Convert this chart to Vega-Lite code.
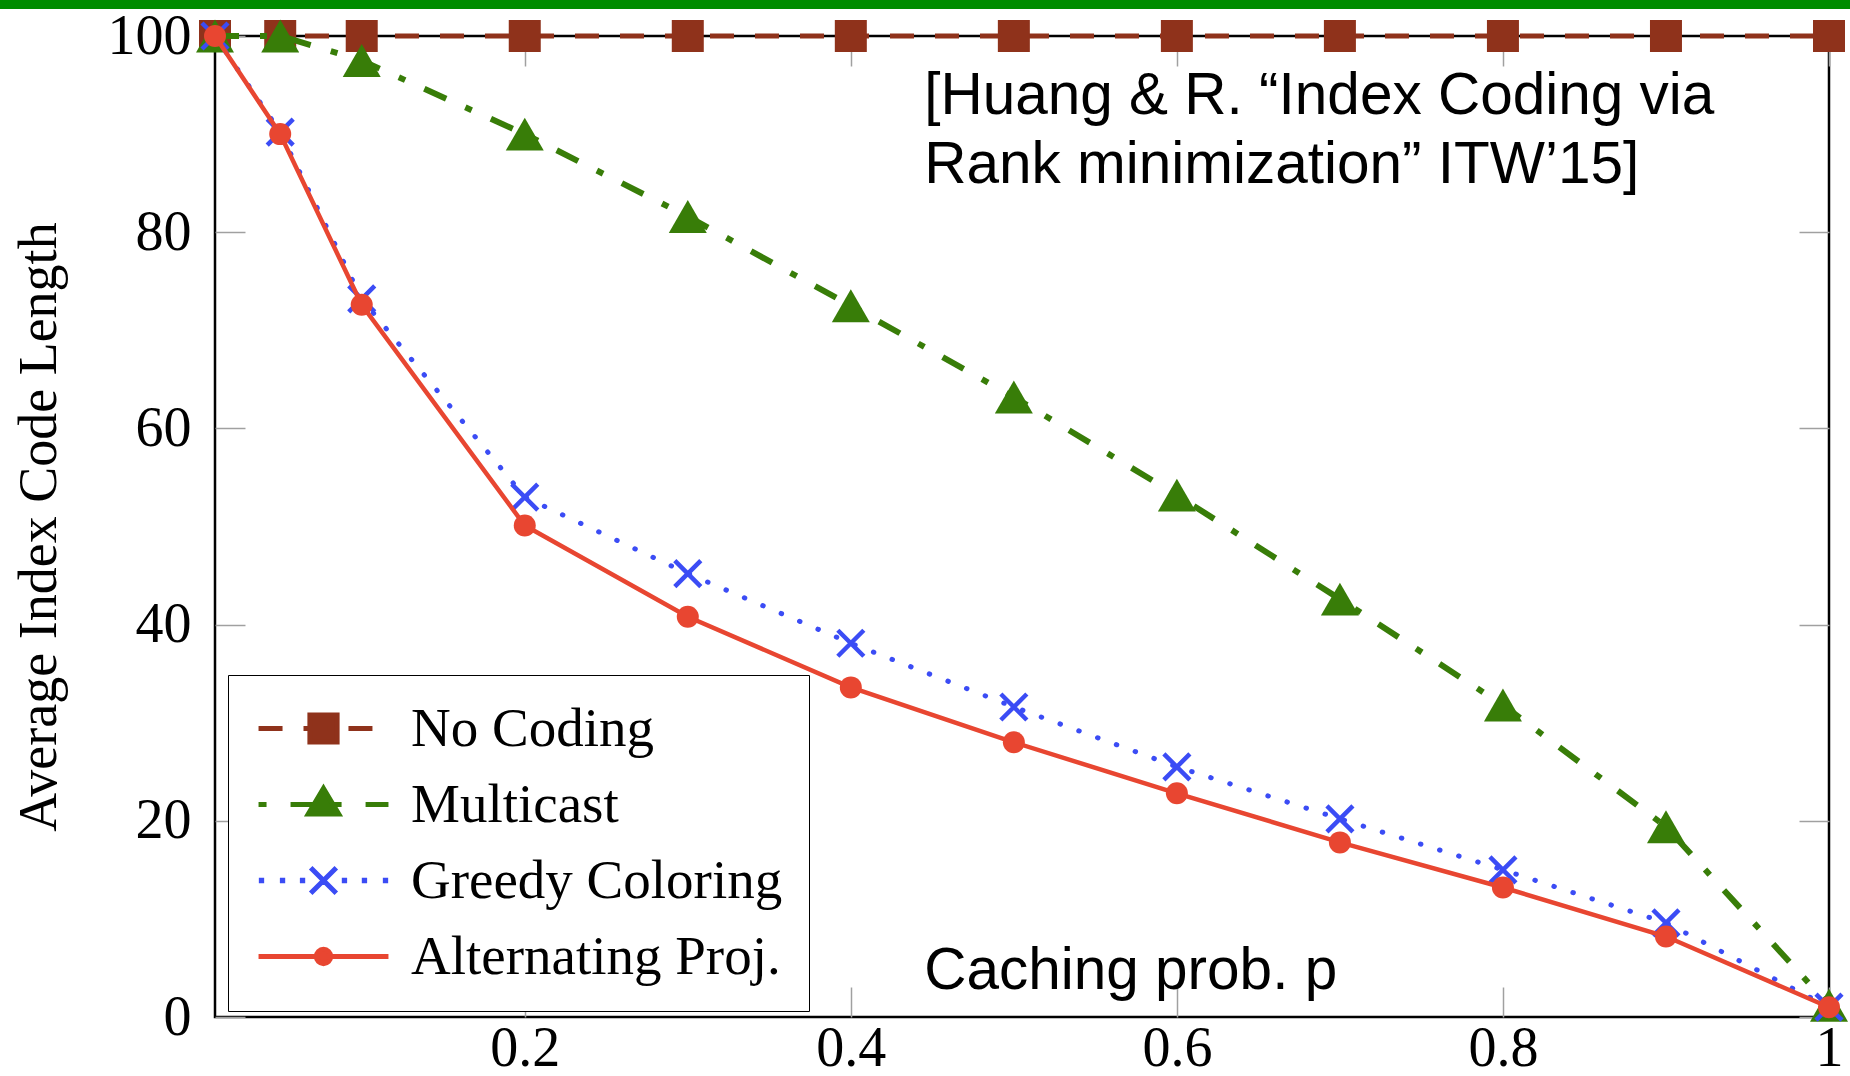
{
  "$schema": "https://vega.github.io/schema/vega-lite/v6.json",
  "width": 1614,
  "height": 981,
  "autosize": {"type": "none"},
  "padding": {"left": 215, "top": 36, "right": 21, "bottom": 59},
  "background": "white",
  "config": {
    "font": "Liberation Serif",
    "view": {"stroke": "black", "strokeWidth": 2.5},
    "axis": {
      "domain": false,
      "grid": false,
      "labelFont": "Liberation Serif",
      "labelFontSize": 56,
      "labelColor": "black",
      "tickColor": "#a0a0a0",
      "tickWidth": 1.5,
      "tickSize": -30,
      "labelOverlap": false,
      "labelFlush": false
    },
    "legend": {
      "title": null,
      "orient": "none",
      "legendX": 13,
      "legendY": 639,
      "symbolSize": 1024,
      "symbolStrokeWidth": 5,
      "symbolOffset": 42,
      "labelOffset": 60,
      "labelFont": "Liberation Serif",
      "labelFontSize": 55,
      "labelColor": "black",
      "labelLimit": 0,
      "rowPadding": 20,
      "padding": 26,
      "strokeColor": "black",
      "fillColor": "white",
      "symbolOpacity": 1
    }
  },
  "data": {
    "values": [
      {"p": 0.01, "v": 100, "series": "No Coding"},
      {"p": 0.05, "v": 100, "series": "No Coding"},
      {"p": 0.1, "v": 100, "series": "No Coding"},
      {"p": 0.2, "v": 100, "series": "No Coding"},
      {"p": 0.3, "v": 100, "series": "No Coding"},
      {"p": 0.4, "v": 100, "series": "No Coding"},
      {"p": 0.5, "v": 100, "series": "No Coding"},
      {"p": 0.6, "v": 100, "series": "No Coding"},
      {"p": 0.7, "v": 100, "series": "No Coding"},
      {"p": 0.8, "v": 100, "series": "No Coding"},
      {"p": 0.9, "v": 100, "series": "No Coding"},
      {"p": 1.0, "v": 100, "series": "No Coding"},
      {"p": 0.01, "v": 100, "series": "Multicast"},
      {"p": 0.05, "v": 100, "series": "Multicast"},
      {"p": 0.1, "v": 97.5, "series": "Multicast"},
      {"p": 0.2, "v": 90, "series": "Multicast"},
      {"p": 0.3, "v": 81.6, "series": "Multicast"},
      {"p": 0.4, "v": 72.5, "series": "Multicast"},
      {"p": 0.5, "v": 63.2, "series": "Multicast"},
      {"p": 0.6, "v": 53.2, "series": "Multicast"},
      {"p": 0.7, "v": 42.6, "series": "Multicast"},
      {"p": 0.8, "v": 31.8, "series": "Multicast"},
      {"p": 0.9, "v": 19.4, "series": "Multicast"},
      {"p": 1.0, "v": 1.2, "series": "Multicast"},
      {"p": 0.01, "v": 100, "series": "Greedy Coloring"},
      {"p": 0.05, "v": 90.2, "series": "Greedy Coloring"},
      {"p": 0.1, "v": 73.2, "series": "Greedy Coloring"},
      {"p": 0.2, "v": 53, "series": "Greedy Coloring"},
      {"p": 0.3, "v": 45.2, "series": "Greedy Coloring"},
      {"p": 0.4, "v": 38.1, "series": "Greedy Coloring"},
      {"p": 0.5, "v": 31.6, "series": "Greedy Coloring"},
      {"p": 0.6, "v": 25.5, "series": "Greedy Coloring"},
      {"p": 0.7, "v": 20.2, "series": "Greedy Coloring"},
      {"p": 0.8, "v": 15, "series": "Greedy Coloring"},
      {"p": 0.9, "v": 9.6, "series": "Greedy Coloring"},
      {"p": 1.0, "v": 1, "series": "Greedy Coloring"},
      {"p": 0.01, "v": 100, "series": "Alternating Proj."},
      {"p": 0.05, "v": 90, "series": "Alternating Proj."},
      {"p": 0.1, "v": 72.6, "series": "Alternating Proj."},
      {"p": 0.2, "v": 50.1, "series": "Alternating Proj."},
      {"p": 0.3, "v": 40.8, "series": "Alternating Proj."},
      {"p": 0.4, "v": 33.6, "series": "Alternating Proj."},
      {"p": 0.5, "v": 28, "series": "Alternating Proj."},
      {"p": 0.6, "v": 22.8, "series": "Alternating Proj."},
      {"p": 0.7, "v": 17.8, "series": "Alternating Proj."},
      {"p": 0.8, "v": 13.2, "series": "Alternating Proj."},
      {"p": 0.9, "v": 8.2, "series": "Alternating Proj."},
      {"p": 1.0, "v": 1, "series": "Alternating Proj."}
    ]
  },
  "resolve": {"axis": {"x": "independent", "y": "independent"}},
  "layer": [
    {
      "data": {"values": [{}]},
      "mark": {"type": "rect", "fill": "#008c00"},
      "encoding": {
        "x": {"datum": -0.14, "type": "quantitative", "scale": {"domain": [0.01, 1], "nice": false, "zero": false}, "axis": {"orient": "bottom", "values": [0.2, 0.4, 0.6, 0.8, 1], "format": "~g", "title": null, "labelPadding": 34}},
        "x2": {"datum": 1.03},
        "y": {"datum": 103.8, "type": "quantitative", "scale": {"domain": [0, 100], "nice": false, "zero": false}, "axis": {"orient": "left", "values": [0, 20, 40, 60, 80, 100], "title": "Average Index Code Length", "titleFont": "Liberation Serif", "titleFontSize": 54, "titleFontWeight": "normal", "titleColor": "black", "labelPadding": 54, "titlePadding": 41}},
        "y2": {"datum": 102.75}
      }
    },
    {
      "data": {"values": [{}]},
      "mark": {"type": "rect", "opacity": 0},
      "encoding": {
        "x": {"datum": 0.5, "type": "quantitative", "axis": {"orient": "top", "values": [0.2, 0.4, 0.6, 0.8, 1], "labels": false, "title": null}},
        "y": {"datum": 50, "type": "quantitative", "axis": {"orient": "right", "values": [0, 20, 40, 60, 80, 100], "labels": false, "title": null}}
      }
    },
    {
      "transform": [{"filter": "datum.series === 'No Coding'"}],
      "mark": {"type": "line", "stroke": "#8f321b", "strokeWidth": 5, "strokeDash": [24, 21], "strokeCap": "butt"},
      "encoding": {
        "x": {"field": "p", "type": "quantitative", "axis": null},
        "y": {"field": "v", "type": "quantitative", "axis": null}
      }
    },
    {
      "transform": [{"filter": "datum.series === 'No Coding'"}],
      "mark": {"type": "point", "shape": "square", "filled": true, "fill": "#8f321b", "size": 1024, "opacity": 1},
      "encoding": {
        "x": {"field": "p", "type": "quantitative", "axis": null},
        "y": {"field": "v", "type": "quantitative", "axis": null}
      }
    },
    {
      "transform": [{"filter": "datum.series === 'Multicast'"}],
      "mark": {"type": "line", "stroke": "#387d08", "strokeWidth": 6, "strokeDash": [24, 21, 7, 21], "strokeCap": "butt"},
      "encoding": {
        "x": {"field": "p", "type": "quantitative", "axis": null},
        "y": {"field": "v", "type": "quantitative", "axis": null}
      }
    },
    {
      "transform": [{"filter": "datum.series === 'Multicast'"}],
      "mark": {"type": "point", "shape": "triangle-up", "filled": true, "fill": "#387d08", "size": 1444, "opacity": 1},
      "encoding": {
        "x": {"field": "p", "type": "quantitative", "axis": null},
        "y": {"field": "v", "type": "quantitative", "axis": null}
      }
    },
    {
      "transform": [{"filter": "datum.series === 'Greedy Coloring'"}],
      "mark": {"type": "line", "stroke": "#3b4cf5", "strokeWidth": 5, "strokeDash": [0.5, 19.5], "strokeCap": "round"},
      "encoding": {
        "x": {"field": "p", "type": "quantitative", "axis": null},
        "y": {"field": "v", "type": "quantitative", "axis": null}
      }
    },
    {
      "transform": [{"filter": "datum.series === 'Greedy Coloring'"}],
      "mark": {"type": "point", "shape": "M-1,-1L1,1M-1,1L1,-1", "filled": false, "stroke": "#3b4cf5", "strokeWidth": 4.5, "size": 676, "opacity": 1},
      "encoding": {
        "x": {"field": "p", "type": "quantitative", "axis": null},
        "y": {"field": "v", "type": "quantitative", "axis": null}
      }
    },
    {
      "transform": [{"filter": "datum.series === 'Alternating Proj.'"}],
      "mark": {"type": "line", "stroke": "#e84631", "strokeWidth": 4.5},
      "encoding": {
        "x": {"field": "p", "type": "quantitative", "axis": null},
        "y": {"field": "v", "type": "quantitative", "axis": null}
      }
    },
    {
      "transform": [{"filter": "datum.series === 'Alternating Proj.'"}],
      "mark": {"type": "point", "shape": "circle", "filled": true, "fill": "#e84631", "size": 484, "opacity": 1},
      "encoding": {
        "x": {"field": "p", "type": "quantitative", "axis": null},
        "y": {"field": "v", "type": "quantitative", "axis": null}
      }
    },
    {
      "mark": {"type": "point", "opacity": 0, "strokeWidth": 5},
      "encoding": {
        "x": {"field": "p", "type": "quantitative", "axis": null},
        "y": {"field": "v", "type": "quantitative", "axis": null},
        "fill": {
          "field": "series",
          "type": "nominal",
          "scale": {
            "domain": ["No Coding", "Multicast", "Greedy Coloring", "Alternating Proj."],
            "range": ["#8f321b", "#387d08", "transparent", "#e84631"]
          },
          "legend": {"labelExpr": "datum.label + '\u00a0\u00a0'"}
        },
        "stroke": {
          "field": "series",
          "type": "nominal",
          "scale": {
            "domain": ["No Coding", "Multicast", "Greedy Coloring", "Alternating Proj."],
            "range": ["#8f321b", "#387d08", "#3b4cf5", "#e84631"]
          },
          "legend": {"labelExpr": "datum.label + '\u00a0\u00a0'"}
        },
        "shape": {
          "field": "series",
          "type": "nominal",
          "scale": {
            "domain": ["No Coding", "Multicast", "Greedy Coloring", "Alternating Proj."],
            "range": [
              "M-4.06,0H-2.56M-1.25,0H0.25M1.56,0H3.06M-0.85,-0.85H0.85V0.85H-0.85Z",
              "M-4.06,0H-3.56M-2.06,0H-0.63M0.63,0H1.13M2.63,0H4.06M0,-1.0L0.95,0.6L-0.95,0.6Z",
              "M-3.885,-0.01h0.02v0.02h-0.02ZM-2.57,-0.01h0.02v0.02h-0.02ZM-1.32,-0.01h0.02v0.02h-0.02ZM1.3,-0.01h0.02v0.02h-0.02ZM2.55,-0.01h0.02v0.02h-0.02ZM3.865,-0.01h0.02v0.02h-0.02ZM-0.8,-0.8L0.8,0.8M-0.8,0.8L0.8,-0.8",
              "M-4.06,0H4.06M-0.45,0A0.45,0.45 0 1,1 0.45,0A0.45,0.45 0 1,1 -0.45,0Z"
            ]
          },
          "legend": {"labelExpr": "datum.label + '\u00a0\u00a0'"}
        }
      }
    },
    {
      "data": {"values": [{}]},
      "mark": {"type": "text", "text": ["[Huang & R. “Index Coding via", "Rank minimization” ITW’15]"], "font": "Liberation Sans", "fontSize": 58.5, "align": "left", "baseline": "alphabetic", "lineHeight": 69, "color": "black"},
      "encoding": {
        "x": {"datum": 0.445, "type": "quantitative", "axis": null},
        "y": {"datum": 92.05, "type": "quantitative", "axis": null}
      }
    },
    {
      "data": {"values": [{}]},
      "mark": {"type": "text", "text": "Caching prob. p", "font": "Liberation Sans", "fontSize": 58.5, "align": "left", "baseline": "alphabetic", "color": "black"},
      "encoding": {
        "x": {"datum": 0.445, "type": "quantitative", "axis": null},
        "y": {"datum": 2.85, "type": "quantitative", "axis": null}
      }
    }
  ]
}
